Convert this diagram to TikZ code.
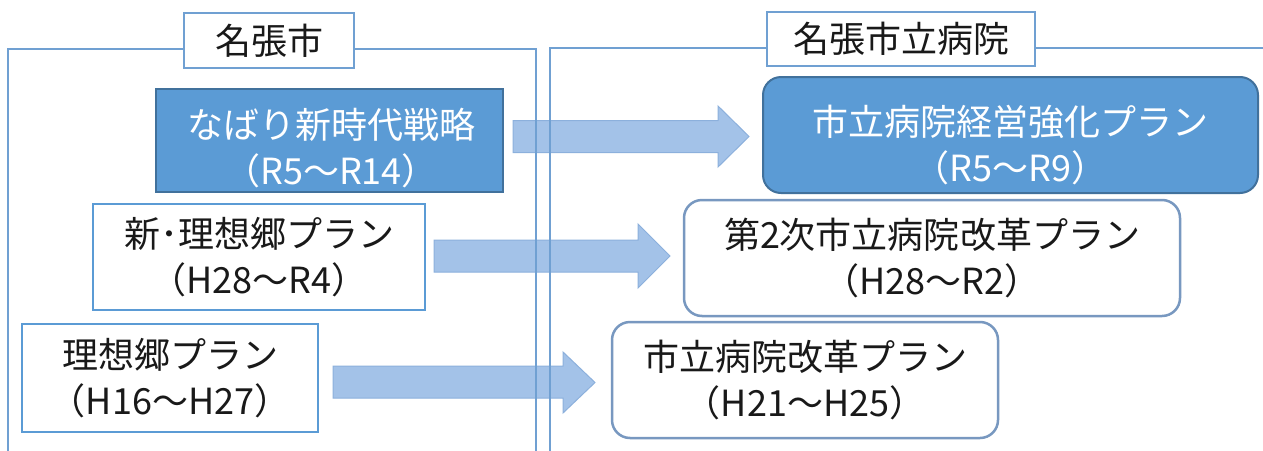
\documentclass[tikz,border=0pt]{standalone}
\usepackage{fontspec}
\setmainfont{Noto Sans CJK JP}
\definecolor{framec}{RGB}{112,160,210}
\definecolor{bluefill}{RGB}{91,155,213}
\definecolor{blueedge}{RGB}{65,113,156}
\definecolor{arrowfill}{RGB}{163,194,232}
\definecolor{arrowedge}{RGB}{140,176,220}
\definecolor{roundedge}{RGB}{120,152,192}
\definecolor{txt}{RGB}{25,25,25}
\tikzset{
  bigfont/.style={font=\fontsize{36}{46}\selectfont},
  lbl/.style={draw=framec, line width=2.5pt, fill=white, text=txt, inner sep=0pt, bigfont},
  bluebox/.style={draw=blueedge, line width=2pt, fill=bluefill, inner sep=0pt},
  bluetext/.style={text=white, align=center, inner sep=0pt, bigfont},
  whitebox/.style={draw=bluefill, line width=2.5pt, fill=white, text=txt, align=center,
    inner sep=0pt, bigfont},
  roundbox/.style={draw=roundedge, line width=2.5pt, fill=white, text=txt, align=center,
    rounded corners=18pt, inner sep=0pt, bigfont},
  bigarrow/.style={draw=arrowedge, line width=1pt, fill=arrowfill},
  frameline/.style={draw=framec, line width=2.8pt}
}
\begin{document}
\begin{tikzpicture}[x=1pt,y=-1pt]
\useasboundingbox (0,0) rectangle (1263,450);
\clip (0,0) rectangle (1263,450);
\fill[white] (0,0) rectangle (1263,450);
% block arrows
\draw[bigarrow] (513,120.5) -- (718,120.5) -- (718,106) -- (749,136.5) -- (718,167) -- (718,152.5) -- (513,152.5) -- cycle;
\draw[bigarrow] (434,240) -- (638,240) -- (638,224) -- (670,256) -- (638,288) -- (638,272) -- (434,272) -- cycle;
\draw[bigarrow] (333,366) -- (563,366) -- (563,352) -- (595,382.5) -- (563,413) -- (563,398) -- (333,398) -- cycle;
% frames
\draw[frameline] (8,470) -- (8,49) -- (536,49) -- (536,470);
\draw[frameline] (550,470) -- (550,48) -- (1280,48);
% frame labels
\node[lbl, minimum width=170pt, minimum height=55pt] (lblL) at (269,40.5) {名張市};
\node[lbl, minimum width=268pt, minimum height=54pt] (lblR) at (901,39) {名張市立病院};
% boxes
\node[bluebox, minimum width=347pt, minimum height=103pt] (b1) at (329.5,140.5) {};
\node[bluetext] (b1t) at (331,148.5) {なばり新時代戦略\\（R5～R14）};
\node[bluebox, rounded corners=18pt, minimum width=495pt, minimum height=116pt] (r1) at (1010.5,135) {};
\node[bluetext] (r1t) at (1010.5,145) {市立病院経営強化プラン\\（R5～R9）};
\node[whitebox, minimum width=332pt, minimum height=106pt] (b2) at (259,257) {新･理想郷プラン\\（H28～R4）};
\node[roundbox, minimum width=496pt, minimum height=116pt] (r2) at (932,258) {第2次市立病院改革プラン\\（H28～R2）};
\node[whitebox, minimum width=296pt, minimum height=108pt] (b3) at (170,378) {理想郷プラン\\（H16～H27）};
\node[roundbox, minimum width=386pt, minimum height=116pt] (r3) at (805,380) {市立病院改革プラン\\（H21～H25）};
\end{tikzpicture}
\end{document}
